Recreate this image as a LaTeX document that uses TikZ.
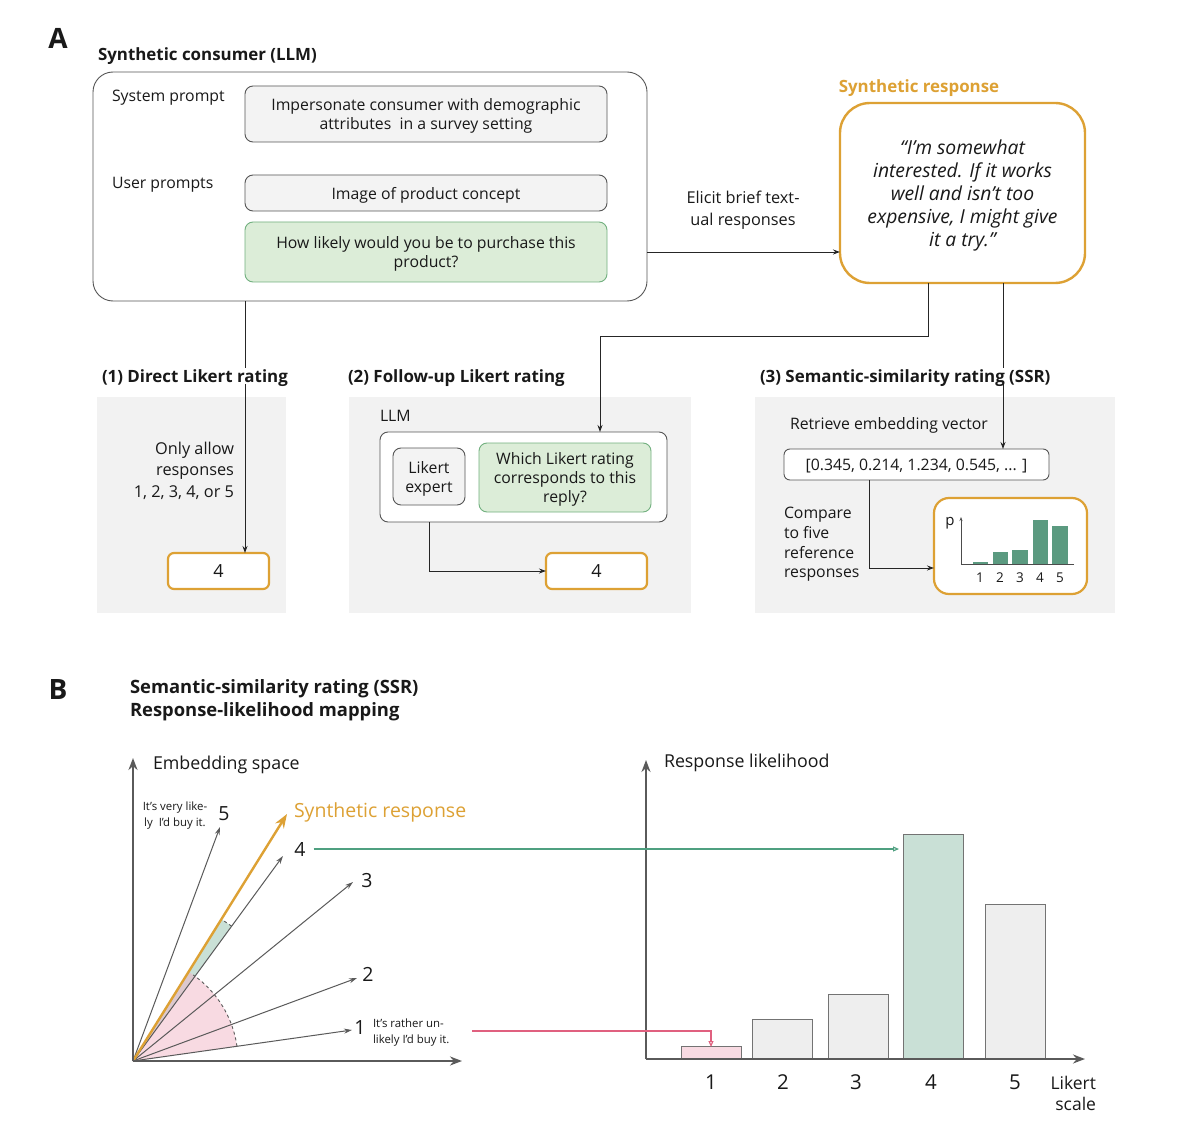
\documentclass[tikz,border=0pt]{standalone}
\usepackage{fontspec}
\setmainfont{Open Sans}
\usetikzlibrary{arrows.meta}
\definecolor{orng}{HTML}{DDA134}
\definecolor{panel}{HTML}{F2F2F2}
\definecolor{boxg}{HTML}{F3F3F3}
\definecolor{edge}{HTML}{555555}
\definecolor{gfill}{HTML}{DCEDD8}
\definecolor{gline}{HTML}{72B07F}
\definecolor{barg}{HTML}{5B9A80}
\definecolor{bgreen}{HTML}{C9E0D6}
\definecolor{bgray}{HTML}{EEEEEE}
\definecolor{pinkf}{HTML}{F8DAE2}
\definecolor{pinkl}{HTML}{E0607F}
\definecolor{greenl}{HTML}{4FA080}
\definecolor{mauve}{HTML}{DCC8CE}
\definecolor{axisc}{HTML}{5A5A5A}
\newcommand\fsN{\fontsize{15.8}{19}\selectfont}
\newcommand\fsH{\fontsize{16.9}{20}\selectfont\bfseries}
\newcommand\fsA{\fontsize{28}{30}\selectfont\bfseries}
\newcommand\fsI{\fontsize{19.3}{23}\selectfont\itshape}
\newcommand\fsS{\fontsize{11.4}{16}\selectfont}
\newcommand\fsL{\fontsize{19.5}{22}\selectfont}
\begin{document}
\begin{tikzpicture}[x=1pt,y=-1pt,
  every node/.style={inner sep=0pt, outer sep=0pt, font=\fsN, text=black!90, text depth=0pt},
  cons/.style={draw=edge, line width=0.9pt, rounded corners=20pt, minimum width=554pt, minimum height=229pt},
  gbox/.style={draw=edge, line width=0.9pt, fill=boxg, rounded corners=8pt, align=center},
  grbox/.style={draw=gline, line width=0.9pt, fill=gfill, rounded corners=8pt, align=center},
  wbox/.style={draw=edge, line width=0.9pt, fill=white, rounded corners=8pt, align=center},
  obox/.style={draw=orng, line width=2.2pt, fill=white, rounded corners=6pt, font=\fontsize{18}{20}\selectfont},
  panelbox/.style={fill=panel, minimum height=216pt},
  ttl/.style={anchor=west, font=\fsH, fill=white, inner sep=2pt},
  arr/.style={-{Stealth[length=7pt,width=5pt]}, draw=black!85, line width=0.9pt},
  axis/.style={-{Stealth[length=12pt,width=9pt]}, draw=axisc, line width=2pt},
  vec/.style={-{Stealth[length=8pt,width=5pt]}, draw=axisc, line width=1pt},
  bar/.style={draw=black!55, line width=1pt, anchor=south, minimum width=60pt},
  garr/.style={-{Triangle[open,length=6pt,width=5pt]}, draw=greenl, line width=1.1pt},
  parr/.style={-{Triangle[open,length=6pt,width=5pt]}, draw=pinkl, line width=1.1pt}
]
\useasboundingbox (0,0) rectangle (1200,1134);
\fill[white] (0,0) rectangle (1200,1134);

% ---------------- Part A ----------------
\node[font=\fsA] (labA) at (58,38) {A};
\node[anchor=west, font=\fsH] (tcons) at (98,54) {Synthetic consumer (LLM)};
\node[cons] (cons) at (370,186.5) {};
\node[anchor=west] (lsys) at (112,96) {System prompt};
\node[anchor=west] (lusr) at (112,183) {User prompts};
\node[gbox, minimum width=362pt, minimum height=56pt] (sys) at (426,114)
  {Impersonate consumer with demographic\\attributes\ \ in a survey setting};
\node[gbox, minimum width=362pt, minimum height=36pt] (img) at (426,193) {Image of product concept};
\node[grbox, minimum width=362pt, minimum height=60pt] (q) at (426,252)
  {How likely would you be to purchase this\\product?};

\node[font=\fontsize{16.9}{20}\selectfont\bfseries, text=orng] (tsyn) at (919,86) {Synthetic response};
\node[draw=orng, line width=2.4pt, rounded corners=30pt, minimum width=245pt, minimum height=180pt,
  align=center, font=\fsI] (synth) at (962.5,193)
  {“I'm somewhat\\interested. If it works\\well and isn't too\\expensive, I might give\\it a try.”};
\node[align=center, font=\fontsize{16.3}{22}\selectfont] (elicit) at (743,208) {Elicit brief text-\\ual responses};
\draw[arr] (cons.east |- q.east) -- (synth.west |- q.east);

% panels
\node[panelbox, minimum width=189pt] (p1) at (191.5,505) {};
\node[panelbox, minimum width=342pt] (p2) at (520,505) {};
\node[panelbox, minimum width=360pt] (p3) at (935,505) {};

% panel 1
\node[anchor=east, align=right, font=\fontsize{16.3}{21.5}\selectfont] (only) at (234,469.5) {Only allow\\responses\\1, 2, 3, 4, or 5};
\node[obox, minimum width=101pt, minimum height=36pt] (d1) at (218.5,571) {4};

% panel 2
\node[anchor=west] (tllm) at (380,416) {LLM};
\node[wbox, minimum width=287pt, minimum height=90pt] (llm) at (523.5,477) {};
\node[gbox, minimum width=72pt, minimum height=57pt] (expert) at (429,476.5) {Likert\\expert};
\node[grbox, minimum width=172pt, minimum height=69pt] (which) at (565,477.5) {Which Likert rating\\corresponds to this\\reply?};
\node[obox, minimum width=101pt, minimum height=36pt] (d2) at (596.5,571) {4};
\draw[arr] (expert |- llm.south) |- (d2.west);

% panel 3
\node[anchor=west] (retr) at (790,423) {Retrieve embedding vector};
\node[wbox, rounded corners=6pt, minimum width=265pt, minimum height=31pt] (vec) at (916.5,464.5) {[0.345, 0.214, 1.234, 0.545, ... ]};
\node[anchor=west, align=left, font=\fontsize{15.8}{19.7}\selectfont] (cmp) at (784,542.5) {Compare\\to five\\reference\\responses};
\node[draw=orng, line width=2.2pt, fill=white, rounded corners=15pt, minimum width=153pt, minimum height=96pt] (chart) at (1010.5,546) {};
\coordinate (c3) at (869,568);
\draw[arr] (vec.south -| c3) -- (c3) -- (c3 -| chart.west);
% mini chart
\fill[barg] (973,564) rectangle (988,562);
\fill[barg] (993,564) rectangle (1008,552);
\fill[barg] (1012,564) rectangle (1028,550);
\fill[barg] (1033,564) rectangle (1048,520);
\fill[barg] (1052,564) rectangle (1068,526);
\draw[draw=black!70, line width=0.8pt] (1074,564) -- (961,564);
\draw[draw=black!70, line width=0.8pt, -{Stealth[length=4pt,width=3pt]}] (961,564) -- (961,517);
\node[font=\fontsize{15}{17}\selectfont] (pp) at (950,521) {p};
\foreach \xx/\lb in {980/1,1000/2,1020/3,1040/4,1060/5}
  \node[font=\fontsize{13.5}{15}\selectfont] (m\lb) at (\xx,578) {\lb};

% connectors from the top
\coordinate (k1) at (600,336);
\draw[arr] (sys.west |- cons.south) -- (sys.west |- d1.north);
\draw[arr] ([xshift=-34.5pt]synth.south) |- (k1) -- (k1 |- llm.north);
\draw[arr] ([xshift=40.5pt]synth.south) -- ([xshift=40.5pt]synth.south |- vec.north);

% titles
\node[ttl] (t1) at (100,376) {(1) Direct Likert rating};
\node[ttl] (t2) at (346,376) {(2) Follow-up Likert rating};
\node[ttl] (t3) at (758,376) {(3) Semantic-similarity rating (SSR)};

% ---------------- Part B ----------------
\node[font=\fsA] (labB) at (58,690) {B};
\node[anchor=west, align=left, font=\fontsize{18.4}{23}\selectfont\bfseries] (tB) at (130,698.5)
  {Semantic-similarity rating (SSR)\\Response-likelihood mapping};

% left chart
\coordinate (O) at (133,1061);
\fill[pinkf] (O) -- plot[domain=8.06:58.06, samples=40] ({133+105*cos(\x)},{1061-105*sin(\x)}) -- cycle;
\fill[bgreen] plot[domain=53.8:58.06, samples=10] ({133+105*cos(\x)},{1061-105*sin(\x)})
  -- plot[domain=58.06:53.8, samples=10] ({133+167*cos(\x)},{1061-167*sin(\x)}) -- cycle;
\fill[mauve] (O) -- plot[domain=53.8:58.06, samples=10] ({133+105*cos(\x)},{1061-105*sin(\x)}) -- cycle;
\draw[dashed, draw=black!65, line width=0.9pt] plot[domain=8.06:55, samples=40] ({133+105*cos(\x)},{1061-105*sin(\x)});
\draw[dashed, draw=black!65, line width=0.9pt] plot[domain=53.8:58.06, samples=10] ({133+167*cos(\x)},{1061-167*sin(\x)});

\coordinate (v5) at (220,827);
\coordinate (v4) at (283,856);
\coordinate (v3) at (353,882);
\coordinate (v2) at (357,978);
\coordinate (v1) at (352,1030);
\coordinate (vs) at (287,814);
\draw[vec] (O) -- (v5);
\draw[vec] (O) -- (v4);
\draw[vec] (O) -- (v3);
\draw[vec] (O) -- (v2);
\draw[vec] (O) -- (v1);
\draw[-{Stealth[length=14pt,width=10pt]}, draw=orng, line width=2.4pt] (O) -- (vs);
\draw[axis] (O) -- (133,758);
\draw[axis] (O) -- (462,1061);

\node[anchor=west, font=\fontsize{17.8}{20}\selectfont] (emb) at (153,763) {Embedding space};
\node[font=\fsL] (l5) at (224,814) {5};
\node[align=center, font=\fsS] (t5) at (175,814) {It's very like-\\ly\ \ I'd buy it.};
\node[anchor=west, font=\fsL, text=orng] (lsr) at (294,810) {Synthetic response};
\node[font=\fsL] (l4) at (300,849) {4};
\node[font=\fsL] (l3) at (367,880) {3};
\node[font=\fsL] (l2) at (368,974) {2};
\node[font=\fsL] (l1) at (360,1028) {1};
\node[anchor=west, font=\fsS] (t1a) at (373,1023) {It's rather un-};
\node[anchor=west, font=\fsS] (t1b) at (373,1039) {likely I'd buy it.};
\coordinate (pa) at (472,1031);

% right chart
\coordinate (P) at (646,1059);
\node[bar, fill=pinkf, minimum height=13pt] (b1) at (711,1059) {};
\node[bar, fill=bgray, minimum height=40pt] (b2) at (782,1059) {};
\node[bar, fill=bgray, minimum height=65pt] (b3) at (858,1059) {};
\node[bar, fill=bgreen, minimum height=225pt] (b4) at (933,1059) {};
\node[bar, fill=bgray, minimum height=155pt] (b5) at (1015,1059) {};
\draw[axis] (P) -- (646,760);
\draw[axis] (P) -- (1085,1059);
\node[anchor=west, font=\fontsize{17.8}{20}\selectfont] (resp) at (664,761) {Response likelihood};
\foreach \xx/\lb in {711/1,783/2,856/3,931/4,1015/5}
  \node[font=\fontsize{20.5}{22}\selectfont] (x\lb) at (\xx,1082) {\lb};
\node[anchor=east, align=right, font=\fontsize{17.5}{21}\selectfont] (lik) at (1096,1093.5) {Likert\\scale};

\draw[garr] (l4.east) ++(8pt,0) -- ([xshift=-4pt]b4.west |- l4.east);
\draw[parr] (pa) -| ([yshift=-1pt]b1.north);
\end{tikzpicture}
\end{document}
